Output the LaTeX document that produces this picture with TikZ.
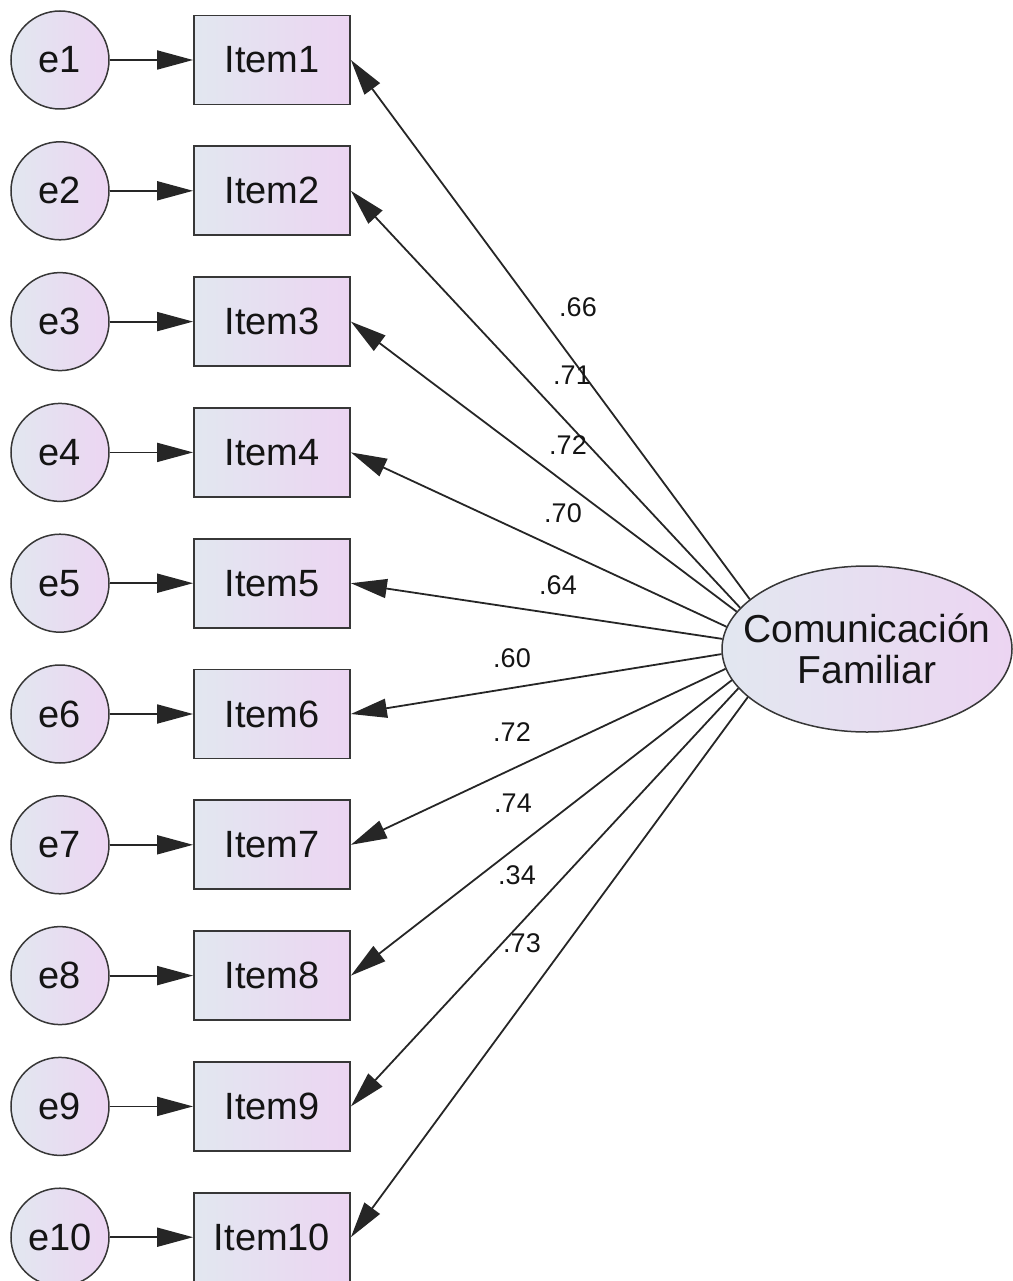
\documentclass[tikz,border=0pt]{standalone}
\usepackage{fontspec}
\setmainfont{Liberation Sans}
\usetikzlibrary{arrows.meta,shapes.geometric}
\definecolor{gL}{RGB}{226,231,240}
\definecolor{gR}{RGB}{236,213,242}
\definecolor{bd}{RGB}{55,55,55}
\definecolor{tx}{RGB}{20,20,20}
\begin{document}
\begin{tikzpicture}[x=1pt,y=-1pt,
  errc/.style={circle,draw=bd,line width=1.5pt,minimum size=98pt,inner sep=0pt,left color=gL,right color=gR,text=tx,font=\fontsize{38}{40}\selectfont},
  itembox/.style={rectangle,draw=bd,line width=1.8pt,minimum width=156pt,minimum height=89pt,inner sep=0pt,left color=gL,right color=gR,text=tx,font=\fontsize{38}{40}\selectfont},
  latent/.style={ellipse,draw=bd,line width=1.5pt,minimum width=290pt,minimum height=166pt,inner sep=0pt,left color=gL,right color=gR},
  latenttext/.style={text=tx,align=center,inner sep=0pt,font=\fontsize{39}{41}\selectfont},
  conn/.style={line width=1.8pt,draw=black!85,-{Triangle[length=36pt,width=19pt]}},
  coef/.style={text=tx,font=\fontsize{27}{28}\selectfont,inner sep=0pt}]
\useasboundingbox (0,0) rectangle (1012,1281);
\node[latent,label={[latenttext]center:{Comunicación\\Familiar}}] (F) at (867,649) {};
\foreach \i/\a in {1/157.8,2/162.0,3/164.8,4/171.2,5/176.5,6/182.3,7/188.9,8/193.9,9/197.5,10/202.3}{
  \pgfmathsetmacro\yy{60+130.8*(\i-1)}
  \node[errc] (e\i) at (60,\yy) {e\i};
  \node[itembox] (I\i) at (272,\yy) {Item\i};
  \draw[conn] (e\i.east) -- (I\i.west);
  \draw[conn] (F.\a) -- (I\i.east);
}
\foreach \n/\x/\y/\lab in {1/578/307/.66,2/572/375/.71,3/568/445/.72,4/563/513/.70,5/558/585/.64,6/512/658/.60,7/512/732/.72,8/513/803/.74,9/517/875/.34,10/522/943/.73}{
  \node[coef] (l\n) at (\x,\y) {\lab};
}
\end{tikzpicture}
\end{document}
